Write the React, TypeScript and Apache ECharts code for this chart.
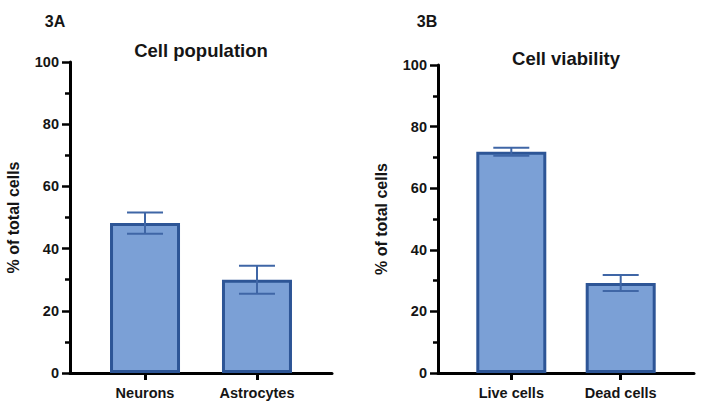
import React, { useEffect, useRef } from "react";
import * as echarts from "echarts";

const popCategories = ["Neurons", "Astrocytes"];
const popMeans = [48.2, 30.0];
const popErrors = [3.4, 4.5];

const viaCategories = ["Live cells", "Dead cells"];
const viaMeans = [71.8, 29.2];
const viaErrors = [1.3, 2.6];

const FONT = "Liberation Sans, Arial, sans-serif";
const BAR_FILL = "#7ba0d6";
const BAR_BORDER = "#2d5596";
const ERR_COLOR = "#3f66a6";

function xAxisFor(gridIndex: number, cats: string[]) {
  return {
    type: "value",
    gridIndex,
    min: -0.67,
    max: 1.67,
    splitLine: { show: false },
    axisLine: { show: true, onZero: false, lineStyle: { color: "#000", width: 3 } },
    axisTick: {
      show: true,
      customValues: [0, 1],
      length: 7,
      lineStyle: { color: "#000", width: 3 },
    },
    axisLabel: {
      show: true,
      customValues: [0, 1],
      formatter: (v: number) => cats[Math.round(v)] ?? "",
      color: "#151515",
      fontFamily: FONT,
      fontWeight: "bold",
      fontSize: 14.5,
      margin: 12,
    },
  };
}

function yAxisFor(gridIndex: number) {
  return {
    type: "value",
    gridIndex,
    min: 0,
    max: 100,
    interval: 20,
    name: "% of total cells",
    nameLocation: "middle",
    nameGap: 49,
    nameTextStyle: {
      fontFamily: FONT,
      fontWeight: "bold",
      fontSize: 16,
      color: "#151515",
    },
    splitLine: { show: false },
    axisLine: { show: true, onZero: false, lineStyle: { color: "#000", width: 3 } },
    axisTick: { show: true, length: 8, lineStyle: { color: "#000", width: 2.5 } },
    minorTick: { show: true, splitNumber: 2, length: 5, lineStyle: { color: "#000", width: 2.5 } },
    axisLabel: {
      color: "#151515",
      fontFamily: FONT,
      fontWeight: "bold",
      fontSize: 14.5,
      margin: 11,
    },
  };
}

function barSeries(idx: number, means: number[]) {
  return {
    type: "bar",
    xAxisIndex: idx,
    yAxisIndex: idx,
    barWidth: 70,
    data: means.map((m, i) => [i, m]),
    itemStyle: { color: BAR_FILL, borderColor: BAR_BORDER, borderWidth: 3 },
    z: 2,
  };
}

function errSeries(idx: number, means: number[], errs: number[]) {
  return {
    type: "custom",
    xAxisIndex: idx,
    yAxisIndex: idx,
    z: 3,
    data: means.map((m, i) => [i, m - errs[i], m + errs[i]]),
    renderItem: (params: any, api: any) => {
      const x = api.value(0);
      const lo = api.coord([x, api.value(1)]);
      const hi = api.coord([x, api.value(2)]);
      const hw = 18;
      const style = { stroke: ERR_COLOR, lineWidth: 2 };
      return {
        type: "group",
        children: [
          { type: "line", shape: { x1: lo[0], y1: lo[1], x2: hi[0], y2: hi[1] }, style },
          { type: "line", shape: { x1: hi[0] - hw, y1: hi[1], x2: hi[0] + hw, y2: hi[1] }, style },
          { type: "line", shape: { x1: lo[0] - hw, y1: lo[1], x2: lo[0] + hw, y2: lo[1] }, style },
        ],
      };
    },
  };
}

function label(text: string, x: number, y: number, size: number) {
  return {
    type: "text",
    x,
    y,
    style: {
      text,
      textAlign: "center",
      textVerticalAlign: "middle",
      fill: "#151515",
      font: `bold ${size}px ${FONT}`,
    },
  };
}

export default function App() {
  const ref = useRef<HTMLDivElement>(null);
  useEffect(() => {
    if (!ref.current) return;
    const chart = echarts.init(ref.current, null, { renderer: "svg" });
    chart.setOption({
      animation: false,
      backgroundColor: "#ffffff",
      graphic: [
        label("3A", 55, 21, 16),
        label("Cell population", 201, 50, 18.5),
        label("3B", 427, 21, 16),
        label("Cell viability", 566, 58, 18.5),
      ],
      grid: [
        { left: 70, right: 369, top: 62, bottom: 40 },
        { left: 438, right: 7, top: 65, bottom: 40 },
      ],
      xAxis: [xAxisFor(0, popCategories), xAxisFor(1, viaCategories)],
      yAxis: [yAxisFor(0), yAxisFor(1)],
      series: [
        barSeries(0, popMeans),
        errSeries(0, popMeans, popErrors),
        barSeries(1, viaMeans),
        errSeries(1, viaMeans, viaErrors),
      ],
    });
    return () => chart.dispose();
  }, []);
  return (
    <div
      ref={ref}
      style={{ position: "fixed", left: 0, top: 0, width: 701, height: 413, background: "#fff" }}
    />
  );
}
